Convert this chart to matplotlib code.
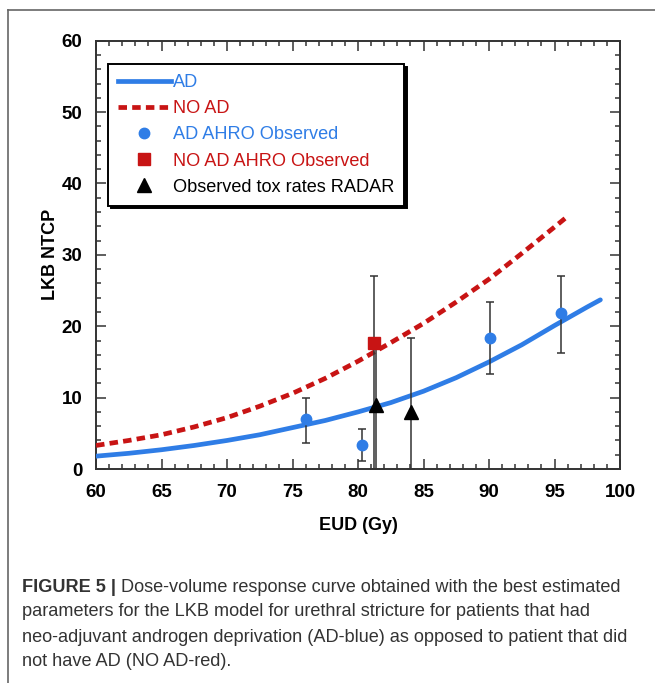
import matplotlib; matplotlib.use('Agg')
import matplotlib.pyplot as plt
from matplotlib.lines import Line2D
import numpy as np

##############################################################################
# LKB curves
eud_ad = [60, 62.5, 65, 67.5, 70, 72.5, 75, 77.5, 80, 82.5, 85, 87.5, 90,
          92.5, 95, 97.5, 98.5]
ntcp_ad = [1.8, 2.2, 2.7, 3.3, 4.0, 4.8, 5.8, 6.8, 8.0, 9.3, 10.9, 12.8, 15.0,
           17.4, 20.1, 22.7, 23.7]
eud_noad = [60, 62.5, 65, 67.5, 70, 72.5, 75, 77.5, 80, 82.5, 85, 87.5, 90,
            92.5, 95, 96]
ntcp_noad = [3.3, 4.0, 4.8, 5.9, 7.2, 8.8, 10.6, 12.7, 15.1, 17.7, 20.4, 23.4,
             26.6, 30.2, 33.9, 35.4]

# observed points with error bars
obs_ad_x = [76.0, 80.3, 90.1, 95.5]
obs_ad_y = [7.0, 3.4, 18.4, 21.9]
obs_ad_lo = [3.6, 1.1, 13.3, 16.3]
obs_ad_hi = [10.0, 5.6, 23.4, 27.0]

obs_noad_x = [81.2]
obs_noad_y = [17.7]
obs_noad_lo = [0.0]
obs_noad_hi = [27.0]

radar_x = [81.4, 84.05]
radar_y = [9.0, 8.0]
radar_lo = [0.0, 0.0]
radar_hi = [17.5, 18.4]

legend_labels = ['AD', 'NO AD', 'AD AHRO Observed', 'NO AD AHRO Observed',
                 'Observed tox rates RADAR']
caption_bold = 'FIGURE 5 |'
caption_lines = [' Dose-volume response curve obtained with the best estimated',
                 'parameters for the LKB model for urethral stricture for patients that had',
                 'neo-adjuvant androgen deprivation (AD-blue) as opposed to patient that did',
                 'not have AD (NO AD-red).']
##############################################################################

blue = '#2f7de6'
red = '#c81414'
plt.rcParams['font.family'] = ['Liberation Sans', 'DejaVu Sans']

fig = plt.figure(figsize=(6.55, 6.83), dpi=100)
ax = fig.add_axes([0.1466, 0.3133, 0.80, 0.6271])

def bars(x, y, lo, hi, **kw):
    y = np.array(y); err = [y - np.array(lo), np.array(hi) - y]
    ax.errorbar(x, y, yerr=err, linestyle='none', ecolor='#333333',
                elinewidth=1.1, capsize=3, capthick=1.1, **kw)

ax.plot(eud_ad, ntcp_ad, color=blue, linewidth=3.4, solid_capstyle='round',
        solid_joinstyle='round', zorder=3)
ax.plot(eud_noad, ntcp_noad, color=red, linewidth=3.4, dashes=(1.8, 1.1), zorder=3)

bars(obs_ad_x, obs_ad_y, obs_ad_lo, obs_ad_hi, marker='o', ms=7.5,
     mfc=blue, mec=blue, zorder=4)
bars(obs_noad_x, obs_noad_y, obs_noad_lo, obs_noad_hi, marker='s', ms=8,
     mfc=red, mec=red, zorder=4)
bars(radar_x, radar_y, radar_lo, radar_hi, marker='^', ms=9.5,
     mfc='black', mec='black', zorder=4)

ax.set_xlim(60, 100)
ax.set_ylim(0, 60)
ax.set_xticks(np.arange(60, 101, 5))
ax.set_xticks(np.arange(60, 101, 1), minor=True)
ax.set_yticks(np.arange(0, 61, 10))
ax.set_yticks(np.arange(0, 61, 2), minor=True)
ax.tick_params(which='both', direction='in', top=True, right=True,
               width=1.1, color='#333333')
ax.tick_params(which='major', length=7, labelsize=13.5, pad=10)
ax.tick_params(axis='x', which='major', pad=11)
ax.tick_params(which='minor', length=3.5)
for lab in ax.get_xticklabels() + ax.get_yticklabels():
    lab.set_fontweight('bold')
for s in ax.spines.values():
    s.set_linewidth(1.4)
    s.set_color('#333333')

ax.set_xlabel('EUD (Gy)', fontsize=13, fontweight='bold', labelpad=11)
ax.set_ylabel('LKB NTCP', fontsize=13, fontweight='bold', labelpad=2)

handles = [Line2D([], [], color=blue, lw=3.4),
           Line2D([], [], color=red, lw=3.4, dashes=(1.8, 1.1)),
           Line2D([], [], ls='none', marker='o', ms=7.5, color=blue),
           Line2D([], [], ls='none', marker='s', ms=8, color=red),
           Line2D([], [], ls='none', marker='^', ms=9.5, color='black')]
leg = ax.legend(handles, legend_labels, loc='upper left',
                bbox_to_anchor=(0.023, 0.945), borderaxespad=0,
                fontsize=13.1, handlelength=2.9, handletextpad=0.1,
                labelspacing=0.5, borderpad=0.55, fancybox=False,
                framealpha=1, edgecolor='black',
                shadow={'color': 'black', 'alpha': 1})
leg.get_frame().set_linewidth(1.4)
for txt, c in zip(leg.get_texts(), [blue, red, blue, red, 'black']):
    txt.set_color(c)

# page frame
fig.add_artist(Line2D([8 / 655, 1], [1 - 10 / 683] * 2, color='#666666', lw=1.2))
fig.add_artist(Line2D([8 / 655] * 2, [0, 1 - 10 / 683], color='#666666', lw=1.2))

# caption
cap_font = ['Liberation Sans Narrow', 'Liberation Sans', 'DejaVu Sans']
y0 = 1 - 587 / 683
dy = 25 / 683
t = fig.text(22 / 655, y0, caption_bold, fontsize=13.1, fontweight='bold',
             family=cap_font, color='#333333', va='center')
fig.canvas.draw()
bb = t.get_window_extent()
fig.text(bb.x1 / 655, y0, caption_lines[0], fontsize=13.1, family=cap_font,
         color='#333333', va='center')
for i, line in enumerate(caption_lines[1:]):
    fig.text(22 / 655, y0 - (i + 1) * dy, line, fontsize=13.1, family=cap_font,
             color='#333333', va='center')

fig.savefig('out.png', dpi=100)
